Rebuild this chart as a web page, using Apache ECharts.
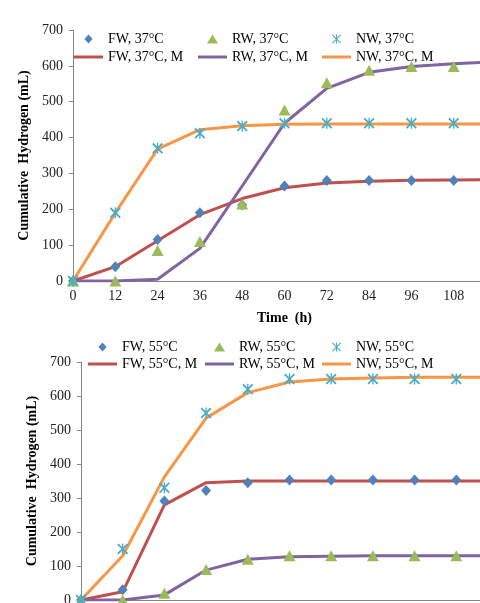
<!DOCTYPE html>
<html>
<head>
<meta charset="utf-8">
<script src="https://cdn.jsdelivr.net/npm/echarts@6/dist/echarts.min.js"></script>
<style>
  html, body { margin: 0; padding: 0; background: #fff; }
  #main { width: 480px; height: 603px; }
</style>
</head>
<body>
<div id="main"></div>
<script>
// sampling times (h)
const hours = [0, 12, 24, 36, 48, 60, 72, 84, 96, 108];
const modelHours = [0, 12, 24, 36, 48, 60, 72, 84, 96, 108, 120];

// 37°C measured
const fw37 = [0, 40, 116, 190, 212, 265, 280, 280, 280, 280];
const rw37 = [0, 0, 85, 110, 215, 477, 553, 588, 598, 598];
const nw37 = [0, 190, 370, 412, 432, 440, 440, 440, 440, 440];
// 37°C model
const fw37M = [0, 40, 112, 185, 230, 260, 273, 278, 281, 282, 283];
const rw37M = [0, 0, 5, 91, 265, 440, 537, 582, 598, 606, 611];
const nw37M = [0, 190, 368, 422, 433, 437, 438, 438, 438, 438, 438];

// 55°C measured
const fw55 = [0, 30, 291, 322, 345, 353, 353, 353, 353, 353];
const rw55 = [0, 0, 20, 90, 120, 130, 130, 130, 130, 130];
const nw55 = [0, 150, 330, 550, 620, 650, 650, 650, 650, 650];
// 55°C model
const fw55M = [0, 24, 280, 345, 350, 350, 350, 350, 350, 350, 350];
const rw55M = [0, 0, 15, 88, 120, 127, 129, 130, 130, 130, 130];
const nw55M = [0, 130, 362, 535, 610, 641, 650, 653, 655, 655, 655];

const FONT = "Liberation Serif";
const axisGray = "#868686";
const C = {
  fwM: "#c0504d", rwM: "#8064a2", nwM: "#f79646",
  fw: "#4f81bd", rw: "#9bbb59", nw: "#4bacc6",
};
const asterisk = "path://M4.4,0H5.6V10H4.4Z M0,1.2L1.2,0L10,8.8L8.8,10Z M8.8,0L10,1.2L1.2,10L0,8.8Z";
// legend icons padded out to the 29x9 box (zero-length end points keep the box width)
const pad = "M0,4.5L0,4.5 M29,4.5L29,4.5 ";
const diamondIcon = "path://" + pad + "M14.5,0L18.5,4.5L14.5,9L10.5,4.5Z";
const triangleIcon = "path://" + pad + "M14.5,0L20,9L9,9Z";
const asteriskIcon = "path://" + pad +
  "M14,0H15V9H14Z M10,0.8L10.8,0L19,8.2L18.2,9Z M18.2,0L19,0.8L10.8,9L10,8.2Z";
const lineIcon = "path://M0,0H29V3H0Z";

const pairs = (xs, ys) => ys.map((v, i) => [xs[i], v]);

const chart = echarts.init(document.getElementById("main"));

function xAxisFor(gridIndex) {
  return {
    type: "value", gridIndex, min: 0, max: 120, interval: 12,
    name: gridIndex === 0 ? "Time  (h)" : "",
    nameLocation: "middle", nameGap: 30,
    nameTextStyle: { fontFamily: FONT, fontSize: 14, fontWeight: "bold", color: "#000" },
    axisLine: { lineStyle: { color: axisGray, width: 1 } },
    axisTick: { show: false },
    splitLine: { show: false },
    axisLabel: { margin: 8, fontFamily: FONT, fontSize: 14, color: "#222" },
  };
}

function yAxisFor(gridIndex, gap) {
  return {
    type: "value", gridIndex, min: 0, max: 700, interval: 100,
    name: "Cumulative  Hydrogen (mL)",
    nameLocation: "middle", nameGap: gap,
    nameTextStyle: { fontFamily: FONT, fontSize: 14, fontWeight: "bold", color: "#000" },
    axisLine: { show: true, lineStyle: { color: axisGray, width: 1 } },
    axisTick: { show: true, length: 4, lineStyle: { color: axisGray } },
    splitLine: { show: false },
    axisLabel: { margin: 10, fontFamily: FONT, fontSize: 14, color: "#222" },
  };
}

function lineSeries(name, data, color, idx) {
  return {
    name, type: "line", xAxisIndex: idx, yAxisIndex: idx,
    data: pairs(modelHours, data),
    symbol: "none", color, z: 2,
    lineStyle: { color, width: 3 },
  };
}

function scatterSeries(name, data, color, symbol, size, idx) {
  return {
    name, type: "scatter", xAxisIndex: idx, yAxisIndex: idx,
    data: pairs(hours, data),
    symbol, symbolSize: size, color, z: 4,
    itemStyle: { color, opacity: 1 },
  };
}

// one legend per item, so each sits where it does in the picture
function legendItem(name, icon, x, y) {
  return {
    left: x, top: y - 7, padding: 0,
    itemWidth: 29, itemHeight: 9, selectedMode: false,
    data: [{ name, icon }],
    textStyle: { fontFamily: FONT, fontSize: 14, color: "#000" },
  };
}

const legends = [
  legendItem("FW, 37°C", diamondIcon, 74, 39),
  legendItem("RW, 37°C", triangleIcon, 198, 39),
  legendItem("NW, 37°C", asteriskIcon, 322, 39),
  legendItem("FW, 37°C, M", lineIcon, 74, 57),
  legendItem("RW, 37°C, M", lineIcon, 198, 57),
  legendItem("NW, 37°C, M", lineIcon, 322, 57),
  legendItem("FW, 55°C", diamondIcon, 88, 347),
  legendItem("RW, 55°C", triangleIcon, 205, 347),
  legendItem("NW, 55°C", asteriskIcon, 322, 347),
  legendItem("FW, 55°C, M", lineIcon, 88, 364),
  legendItem("RW, 55°C, M", lineIcon, 205, 364),
  legendItem("NW, 55°C, M", lineIcon, 322, 364),
];

chart.setOption({
  animation: false,
  backgroundColor: "#fff",
  grid: [
    { left: 73, right: -16, top: 30, bottom: 322, containLabel: false, outerBoundsMode: "none" },
    { left: 81, right: -18, top: 362, bottom: 3, containLabel: false, outerBoundsMode: "none" },
  ],
  legend: legends,
  xAxis: [xAxisFor(0), xAxisFor(1)],
  yAxis: [yAxisFor(0, 34), yAxisFor(1, 33)],
  series: [
    lineSeries("FW, 37°C, M", fw37M, C.fwM, 0),
    lineSeries("RW, 37°C, M", rw37M, C.rwM, 0),
    lineSeries("NW, 37°C, M", nw37M, C.nwM, 0),
    scatterSeries("FW, 37°C", fw37, C.fw, "diamond", [10, 11], 0),
    scatterSeries("RW, 37°C", rw37, C.rw, "triangle", [12, 11], 0),
    scatterSeries("NW, 37°C", nw37, C.nw, asterisk, 11, 0),
    lineSeries("FW, 55°C, M", fw55M, C.fwM, 1),
    lineSeries("RW, 55°C, M", rw55M, C.rwM, 1),
    lineSeries("NW, 55°C, M", nw55M, C.nwM, 1),
    scatterSeries("FW, 55°C", fw55, C.fw, "diamond", [10, 11], 1),
    scatterSeries("RW, 55°C", rw55, C.rw, "triangle", [12, 11], 1),
    scatterSeries("NW, 55°C", nw55, C.nw, asterisk, 11, 1),
  ],
});

window.addEventListener("resize", () => chart.resize());
</script>
</body>
</html>
